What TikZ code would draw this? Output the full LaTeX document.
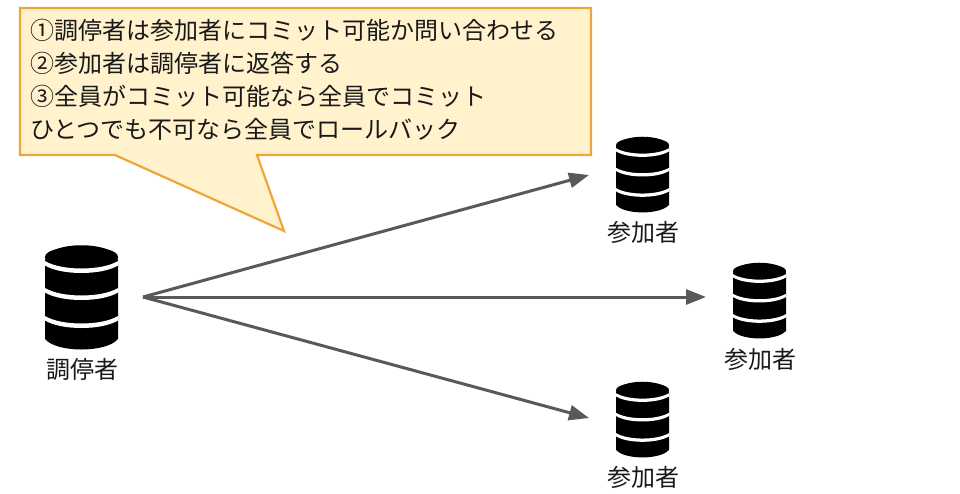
\documentclass[tikz,border=0pt]{standalone}
\usepackage{fontspec}
\setmainfont{Noto Sans CJK JP}
\usepackage{xcolor}
\usetikzlibrary{positioning,arrows.meta}
\definecolor{notefill}{HTML}{FFF2CC}
\definecolor{noteline}{HTML}{EDA63A}
\definecolor{arrowgray}{HTML}{595959}
\tikzset{
  callout/.style  = {draw=noteline, fill=notefill, line width=2.2pt, line join=miter},
  notetxt/.style  = {font=\fontsize{24}{33}\selectfont, align=left, anchor=west, inner sep=0pt, text=black!90},
  dblbl/.style    = {font=\fontsize{24}{28}\selectfont, inner sep=0pt, text=black!90},
  arrowto/.style  = {-{Triangle[length=20pt,width=15pt]}, draw=arrowgray, fill=arrowgray, line width=3pt},
  pics/dbicon/.style = {code={
    \fill[black] (-36.5,14) -- (-36.5,92) .. controls (-25,106) and (25,106) .. (36.5,92) -- (36.5,14)
      .. controls (36.5,-7) and (-36.5,-7) .. (-36.5,14) -- cycle;
    \fill[black] (-36.5,10) .. controls (-36.5,-4) and (36.5,-4) .. (36.5,10)
      .. controls (36.5,25) and (-36.5,25) .. (-36.5,10) -- cycle;
    \foreach \yy in {14,41,69} {
      \fill[white] (-36.5,\yy) .. controls (-20,\yy+10) and (20,\yy+10) .. (36.5,\yy)
        -- (36.5,\yy+4.5) .. controls (20,\yy+14.5) and (-20,\yy+14.5) .. (-36.5,\yy+4.5) -- cycle;
    }
  }},
}
\begin{document}
\begin{tikzpicture}[x=1pt,y=-1pt]
  \useasboundingbox (0,0) rectangle (960,493);
  % callout
  \draw[callout] (20,8) -- (591,8) -- (591,155) -- (257,155) -- (284,231) -- (115,155) -- (20,155) -- cycle;
  \node[notetxt] (notetext) at (30,79.5) {①調停者は参加者にコミット可能か問い合わせる\\②参加者は調停者に返答する\\③全員がコミット可能なら全員でコミット\\ひとつでも不可なら全員でロールバック};

  % coordinator
  \pic at (81.5,247) {dbicon};
  \node[dblbl] (coordlbl) at (82.5,369) {調停者};
  \coordinate (coordout) at (143,297);

  % participants
  \pic[scale=0.726] at (642.5,138) {dbicon};
  \node[dblbl] (partAlbl) at (643.5,232) {参加者};
  \coordinate (partAin) at (589,175);

  \pic[scale=0.726] at (759.5,264) {dbicon};
  \node[dblbl] (partBlbl) at (760.5,359) {参加者};
  \coordinate (partBin) at (706,297);

  \pic[scale=0.726] at (642.5,383) {dbicon};
  \node[dblbl] (partClbl) at (643.5,477) {参加者};
  \coordinate (partCin) at (589,418);

  \draw[arrowto] (coordout) -- (partAin);
  \draw[arrowto] (coordout) -- (partBin);
  \draw[arrowto] (coordout) -- (partCin);
\end{tikzpicture}
\end{document}
